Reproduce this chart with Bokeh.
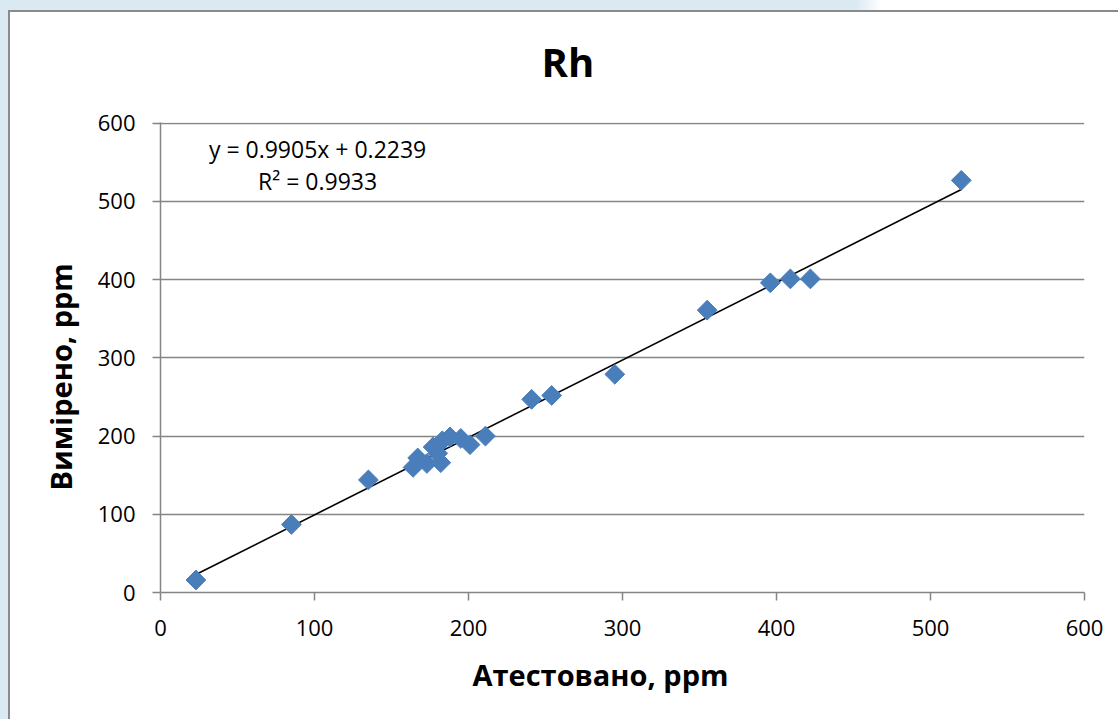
import numpy as np
from bokeh.plotting import figure
from bokeh.layouts import column
from bokeh.models import Label, FixedTicker, ColumnDataSource, Title
from bokeh.embed import file_html
from bokeh.resources import INLINE

# ---- data ----
title_text = "Rh"
x_label = "Атестовано, ppm"
y_label = "Вимірено, ppm"
x_attested = [23, 85, 135, 164, 167, 173, 180, 182, 177, 183, 188, 195, 201, 211,
              241, 254, 295, 355, 396, 409, 422, 520]
y_measured = [16, 87, 144, 160, 172, 165, 178, 166, 186, 194, 199, 197, 189, 200,
              247, 252, 279, 361, 396, 401, 401, 527]
slope = 0.9905
intercept = 0.2239
r_squared = 0.9933
x_ticks = [0, 100, 200, 300, 400, 500, 600]
y_ticks = [0, 100, 200, 300, 400, 500, 600]

FONT = "Open Sans"
GRID = "#858585"

p = figure(width=1118, height=719, x_range=(0, 600), y_range=(0, 601),
           output_backend="svg", toolbar_location=None,
           min_border_left=160, min_border_right=34,
           min_border_top=122, min_border_bottom=127,
           background_fill_color="white", border_fill_color=None)
p.outline_line_color = None

for ax, ticks in ((p.xaxis, x_ticks), (p.yaxis, y_ticks)):
    ax.ticker = FixedTicker(ticks=ticks)
    ax.axis_line_color = GRID
    ax.axis_line_width = 1.5
    ax.major_tick_line_color = GRID
    ax.major_tick_line_width = 1.5
    ax.major_tick_out = 8
    ax.major_tick_in = 0
    ax.minor_tick_line_color = None
    ax.major_label_text_font = FONT
    ax.major_label_text_font_size = "22px"
    ax.major_label_text_color = "black"
p.xaxis.major_label_standoff = 19
p.yaxis.major_label_standoff = 17

p.xgrid.grid_line_color = None
p.ygrid.ticker = FixedTicker(ticks=y_ticks)
p.ygrid.grid_line_color = GRID
p.ygrid.grid_line_width = 1.5

# title and axis titles (as Title panels so they can sit outside the frame)
p.title.text = title_text
p.title.text_font = FONT
p.title.text_font_style = "bold"
p.title.text_font_size = "40px"
p.title.text_color = "black"
p.title.align = "left"
p.title.offset = 381
p.title.vertical_align = "top"
p.title.standoff = 64

p.add_layout(Title(text=x_label, align="left", offset=312, standoff=28,
                   text_color="black",
                   text_font=FONT, text_font_style="bold", text_font_size="29px"),
             "below")
p.add_layout(Title(text=y_label, align="left", offset=102, standoff=30,
                   text_color="black",
                   text_font=FONT, text_font_style="bold", text_font_size="29px"),
             "left")

# trendline from the equation
x0, x1 = min(x_attested), max(x_attested)
p.line([x0, x1], [slope * x0 + intercept, slope * x1 + intercept],
       line_color="black", line_width=1.6)

src = ColumnDataSource(dict(x=x_attested, y=y_measured))
p.scatter("x", "y", source=src, marker="square", angle=np.pi / 4, size=14,
          fill_color="#4a7ebb", line_color="#4a7ebb", line_width=1)

# equation text
p.add_layout(Label(x=102, y=567, text=f"y = {slope}x + {intercept}",
                   text_align="center", text_baseline="middle", text_color="black",
                   text_font=FONT, text_font_size="23px"))
p.add_layout(Label(x=102, y=526, text=f"R² = {r_squared}",
                   text_align="center", text_baseline="middle", text_color="black",
                   text_font=FONT, text_font_size="23px"))

bg = ", ".join([
    "linear-gradient(#8a8a8a, #8a8a8a) 8px 10px / 2px 100% no-repeat",
    "linear-gradient(#8a8a8a, #8a8a8a) 8px 10px / 100% 2px no-repeat",
    "linear-gradient(#ffffff, #ffffff) 8px 10px / 100% 100% no-repeat",
    "linear-gradient(97deg, #dbe9f2 0px, #dbe9f2 850px, #ffffff 875px)",
])
layout = column(p, width=1118, height=719, styles={"background": bg})

open("out.html", "w").write(file_html(layout, INLINE))
